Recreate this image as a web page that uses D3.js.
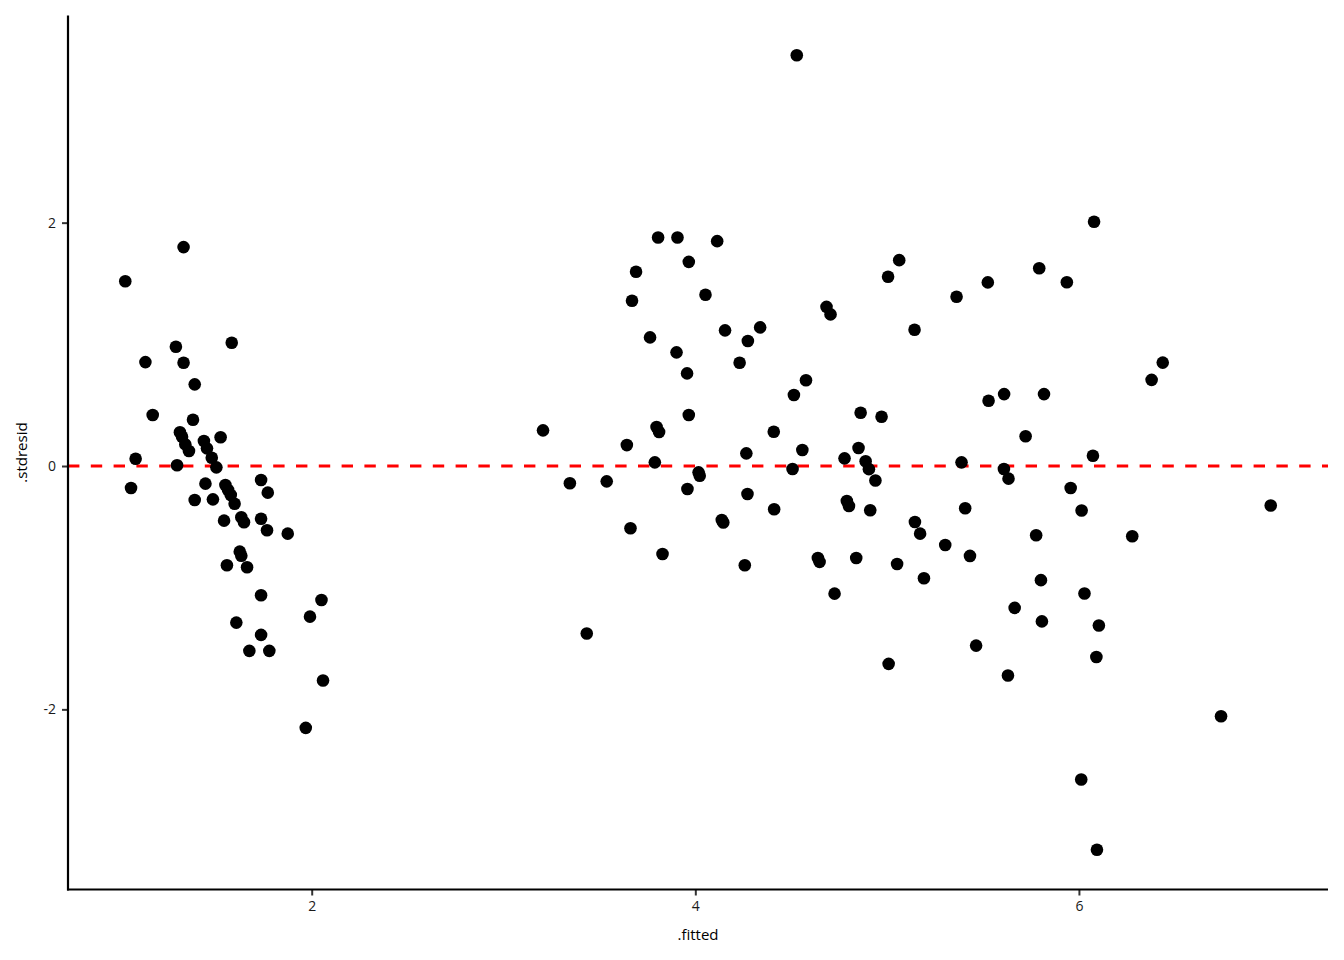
<!DOCTYPE html>
<html>
<head>
<meta charset="utf-8">
<script src="https://cdn.jsdelivr.net/npm/d3@7"></script>
<style>
  html, body { margin: 0; padding: 0; background: #fff; }
  svg { display: block; }
  text { font-family: "Open Sans", "Noto Sans", sans-serif; }
</style>
</head>
<body>
<svg id="chart" width="1344" height="960"></svg>
<script>
// Fitted values (x)
const fitted = [
  1.028, 1.332, 1.292, 1.583, 1.133, 1.332, 1.390, 1.171, 1.381, 1.313,
  1.324, 1.341, 1.360, 1.438, 1.454, 1.479, 1.503, 1.525, 1.082, 1.298,
  1.736, 1.446, 1.058, 1.550, 1.564, 1.578, 1.598, 1.771, 1.390, 1.485,
  1.543, 1.633, 1.647, 1.736, 1.767, 1.875, 1.625, 1.633, 1.558, 1.663,
  1.736, 2.051, 1.991, 1.607, 1.736, 1.675, 1.779, 2.059, 1.969,
  3.206, 3.346, 3.434, 3.538, 3.643, 3.662, 3.670, 3.691, 3.764, 3.789,
  3.798, 3.811, 3.806, 3.829, 3.907, 3.902, 3.957, 3.966, 3.966, 3.959,
  4.017, 4.023, 4.053, 4.114, 4.138, 4.146, 4.155, 4.231, 4.258, 4.266,
  4.274, 4.272, 4.338, 4.409, 4.411, 4.507, 4.514, 4.558, 4.577, 4.529,
  4.639, 4.648, 4.684, 4.705, 4.726, 4.778, 4.790, 4.801, 4.839, 4.851,
  4.862, 4.888, 4.905, 4.912, 4.939, 4.971, 5.005, 5.008, 5.052, 5.063,
  5.143, 5.145, 5.172, 5.192, 5.303, 5.362, 5.388, 5.407, 5.432, 5.464,
  5.525, 5.529, 5.610, 5.609, 5.633, 5.630, 5.665, 5.722, 5.777, 5.793,
  5.802, 5.807, 5.818, 5.937, 5.957, 6.012, 6.014, 6.029, 6.073, 6.079,
  6.091, 6.094, 6.104, 6.278, 6.379, 6.437, 6.741, 7.000
];
// Standardised residuals (y)
const stdresid = [
  1.519, 1.799, 0.980, 1.013, 0.854, 0.848, 0.671, 0.419, 0.380, 0.277,
  0.241, 0.178, 0.123, 0.205, 0.145, 0.068, -0.011, 0.236, 0.060, 0.006,
  -0.115, -0.145, -0.181, -0.156, -0.197, -0.238, -0.310, -0.219, -0.279, -0.274,
  -0.449, -0.421, -0.462, -0.433, -0.528, -0.556, -0.704, -0.737, -0.816, -0.832,
  -1.062, -1.101, -1.238, -1.287, -1.388, -1.519, -1.519, -1.763, -2.152,
  0.293, -0.142, -1.377, -0.126, 0.172, -0.512, 1.358, 1.596, 1.057, 0.030,
  0.320, 0.279, 1.878, -0.723, 1.878, 0.934, 0.761, 1.678, 0.419, -0.189,
  -0.052, -0.080, 1.407, 1.848, -0.444, -0.464, 1.115, 0.848, -0.816, 0.104,
  1.027, -0.230, 1.139, 0.282, -0.356, -0.025, 0.583, 0.131, 0.705, 3.376,
  -0.756, -0.788, 1.308, 1.246, -1.049, 0.063, -0.287, -0.329, -0.756, 0.148,
  0.438, 0.039, -0.026, -0.364, -0.119, 0.405, 1.555, -1.626, -0.805, 1.692,
  1.120, -0.460, -0.556, -0.922, -0.649, 1.391, 0.030, -0.347, -0.739, -1.476,
  1.509, 0.536, 0.591, -0.025, -0.104, -1.722, -1.166, 0.244, -0.569, 1.625,
  -0.938, -1.277, 0.591, 1.510, -0.181, -2.577, -0.366, -1.048, 0.084, 2.007,
  -1.570, -3.154, -1.311, -0.577, 0.708, 0.850, -2.057, -0.324
];
const xTicks = [2, 4, 6];
const yTicks = [-2, 0, 2];
const xTitle = ".fitted";
const yTitle = ".stdresid";
const refLine = 0;

const points = fitted.map((f, i) => ({ x: f, y: stdresid[i] }));

const svg = d3.select("#chart");
const pLeft = 68, pRight = 1328, pTop = 15.5, pBottom = 889.5;

function expand(ext) {
  const s = ext[1] - ext[0];
  return [ext[0] - 0.05 * s, ext[1] + 0.05 * s];
}
const x = d3.scaleLinear().domain(expand(d3.extent(fitted))).range([pLeft, pRight]);
const y = d3.scaleLinear().domain(expand(d3.extent(stdresid))).range([pBottom, pTop]);

// Reference line
svg.append("line")
  .attr("x1", pLeft).attr("x2", pRight)
  .attr("y1", y(refLine)).attr("y2", y(refLine))
  .attr("stroke", "#ff0000")
  .attr("stroke-width", 2.8)
  .attr("stroke-dasharray", "11.4,11.4");

// Points
svg.append("g").selectAll("circle")
  .data(points).enter().append("circle")
  .attr("cx", d => x(d.x))
  .attr("cy", d => y(d.y))
  .attr("r", 6.3)
  .attr("fill", "#000");

// Axes
const xAxis = svg.append("g").attr("transform", `translate(0,${pBottom})`)
  .call(d3.axisBottom(x).tickValues(xTicks).tickSize(6).tickPadding(6).tickFormat(d3.format("d")));
const yAxis = svg.append("g").attr("transform", `translate(${pLeft},0)`)
  .call(d3.axisLeft(y).tickValues(yTicks).tickSize(6).tickPadding(6).tickFormat(d => d < 0 ? "-" + Math.abs(d) : String(d)));

[xAxis, yAxis].forEach(g => {
  g.select(".domain").remove();
  g.selectAll(".tick line").attr("stroke", "#333").attr("stroke-width", 2);
  g.selectAll(".tick text").attr("fill", "#1a1a1a").style("font-size", "14px");
});

// Axis lines
svg.append("line").attr("x1", pLeft).attr("x2", pLeft).attr("y1", pTop).attr("y2", pBottom + 1)
  .attr("stroke", "#000").attr("stroke-width", 2.2);
svg.append("line").attr("x1", pLeft - 1).attr("x2", pRight).attr("y1", pBottom).attr("y2", pBottom)
  .attr("stroke", "#000").attr("stroke-width", 2.2);

// Titles
svg.append("text")
  .attr("x", (pLeft + pRight) / 2).attr("y", 940)
  .attr("text-anchor", "middle")
  .style("font-size", "15px").attr("fill", "#000")
  .text(xTitle);
svg.append("text")
  .attr("transform", `translate(27,${(pTop + pBottom) / 2}) rotate(-90)`)
  .attr("text-anchor", "middle")
  .style("font-size", "15px").attr("fill", "#000")
  .text(yTitle);
</script>
</body>
</html>
